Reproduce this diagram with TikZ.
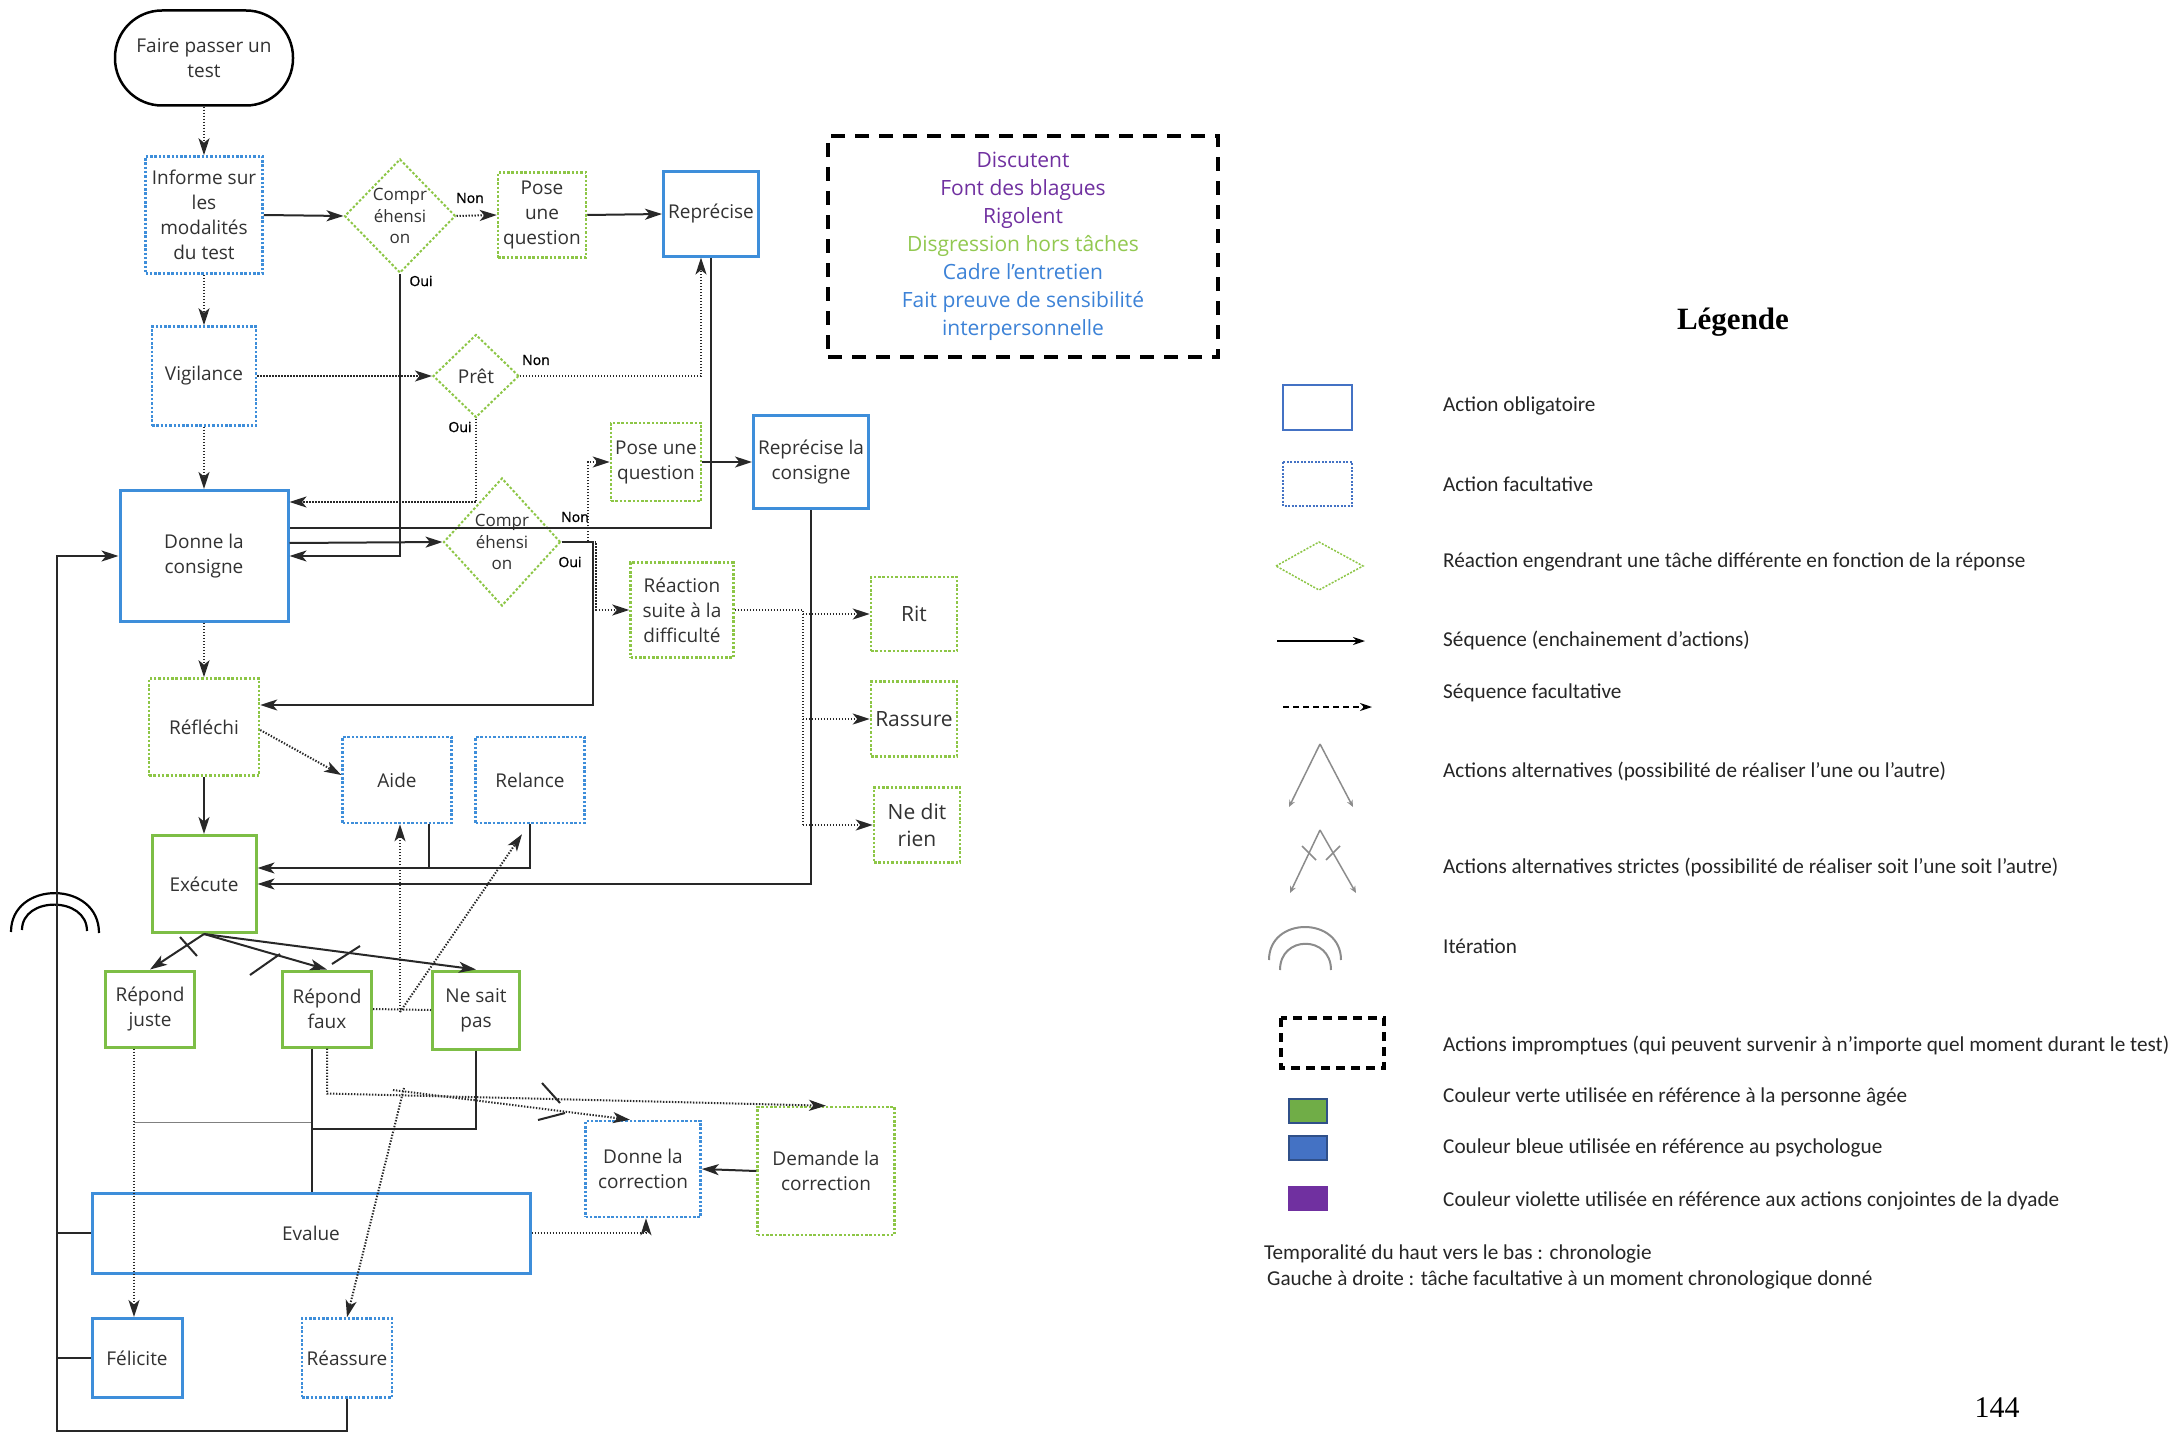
\documentclass[tikz,border=0pt]{standalone}
\usepackage{fontspec}
\setmainfont{Open Sans}
\newfontfamily\legfont{Carlito}
\newfontfamily\serfont{Liberation Serif}
\newfontfamily\labfont[FakeBold=1.2]{Open Sans}
\usetikzlibrary{arrows.meta,shapes.geometric,calc}
\definecolor{bl}{RGB}{62,142,218}
\definecolor{gr}{RGB}{141,198,70}
\definecolor{grs}{RGB}{125,190,70}
\definecolor{ln}{RGB}{40,40,40}
\definecolor{tx}{RGB}{50,50,50}
\definecolor{purp}{RGB}{112,48,160}
\definecolor{txgreen}{RGB}{146,200,80}
\definecolor{txblue}{RGB}{60,130,215}
\definecolor{lgreen}{RGB}{112,173,71}
\definecolor{lblue}{RGB}{68,114,196}
\definecolor{lgrey}{RGB}{140,140,140}
\tikzset{
 base/.style={rectangle, inner sep=2pt, align=center, text=tx, font=\fontsize{19}{25}\selectfont},
 oblig/.style={base, draw=bl, line width=3pt},
 facul/.style={base, draw=bl, line width=2.5pt, dash pattern=on 2.5pt off 1.8pt},
 vert/.style={base, draw=gr, line width=2.5pt, dash pattern=on 2.5pt off 1.8pt},
 verts/.style={base, draw=grs, line width=3pt},
 losange/.style={diamond, inner sep=0pt, align=center, text=tx, draw=gr, line width=2pt, dash pattern=on 2.5pt off 2pt, font=\fontsize{17}{21.5}\selectfont},
 sz/.style 2 args={minimum width=#1pt, minimum height=#2pt},
 con/.style={draw=ln, line width=2pt},
 dcon/.style={draw=ln, line width=2pt, dash pattern=on 1.4pt off 1.6pt},
 tip/.style={-{Stealth[length=17pt,width=11pt,inset=4.5pt]}},
 lab/.style={font=\labfont\fontsize{14}{16}\selectfont, text=black, inner sep=0pt},
 legt/.style={anchor=west, inner sep=0pt, text=black!85, font=\legfont\fontsize{21.2}{25}\selectfont},
}
\begin{document}
\begin{tikzpicture}[x=1pt,y=-1pt]
\fill[white] (0,0) rectangle (2181,1434);
\useasboundingbox (0,0) rectangle (2181,1434);

% ---------- nodes ----------
\node[base, draw=black, line width=2.5pt, rounded corners=47pt, sz={178}{95}] (start) at (204,58) {Faire passer un\\test};
\node[facul, sz={117}{117}] (informe) at (204,215) {Informe sur\\les\\modalités\\du test};
\node[losange, sz={111}{114}] (comp1) at (400,216) {Compr\\éhensi\\on};
\node[vert, sz={88}{85}] (pose1) at (542,215) {Pose\\une\\question};
\node[oblig, sz={95}{84}] (repr) at (711,214) {Reprécise};
\node[facul, sz={104}{99}] (vigil) at (204,376) {Vigilance};
\node[losange, sz={86}{83}, font=\fontsize{19}{23}\selectfont] (pret) at (476,376) {Prêt};
\node[oblig, sz={168}{131}] (donne) at (204,556) {Donne la\\consigne};
\node[losange, sz={117}{128}] (comp2) at (502,542) {Compr\\éhensi\\on};
\node[vert, sz={90}{78}] (pose2) at (656,462) {Pose une\\question};
\node[oblig, sz={115}{93}] (repcons) at (811,462) {Reprécise la\\consigne};
\node[vert, sz={103}{95}] (reac) at (682,610) {Réaction\\suite à la\\difficulté};
\node[vert, sz={86}{74}, font=\fontsize{21}{27}\selectfont] (rit) at (914,614) {Rit};
\node[vert, sz={86}{75}, font=\fontsize{21}{27}\selectfont] (rassure) at (914,719) {Rassure};
\node[vert, sz={86}{75}, font=\fontsize{21}{27}\selectfont] (nedit) at (917,825) {Ne dit\\rien};
\node[vert, sz={110}{97}] (refl) at (204,727) {Réfléchi};
\node[facul, sz={109}{86}] (aide) at (397,780) {Aide};
\node[facul, sz={109}{86}] (relance) at (530,780) {Relance};
\node[verts, sz={104}{97}] (exec) at (204,884) {Exécute};
\node[verts, sz={89}{76}] (juste) at (150,1009) {Répond\\juste};
\node[verts, sz={89}{76}] (faux) at (327,1009) {Répond\\faux};
\node[verts, sz={87}{78}] (nesait) at (476,1010) {Ne sait\\pas};
\node[facul, sz={115}{96}] (dcorr) at (643,1169) {Donne la\\correction};
\node[vert, sz={137}{128}] (dem) at (826,1171) {Demande la\\correction};
\node[oblig, sz={438}{80}] (evalue) at (311,1233) {Evalue};
\node[oblig, sz={90}{79}] (felic) at (137,1358) {Félicite};
\node[facul, sz={90}{79}] (reass) at (347,1358) {Réassure};

% impromptu box
\node[draw=black, line width=4pt, dash pattern=on 14pt off 10pt, sz={390}{221}, inner sep=0pt, align=center, font=\fontsize{21}{28}\selectfont] (impro) at (1023,246.5)
 {\textcolor{purp}{Discutent}\\\textcolor{purp}{Font des blagues}\\\textcolor{purp}{Rigolent}\\\textcolor{txgreen}{Disgression hors tâches}\\\textcolor{txblue}{Cadre l'entretien}\\\textcolor{txblue}{Fait preuve de sensibilité}\\\textcolor{txblue}{interpersonnelle}};

% ---------- connectors ----------
\draw[dcon, tip] (start.south) -- (informe.north);
\draw[con, tip] (informe.east) -- (comp1.west);
\draw[dcon, tip] (comp1.east) -- (pose1.west);
\node[lab] (non1) at (470,198) {Non};
\draw[con, tip] (pose1.east) -- (repr.west);
\draw[con, tip] (comp1.south) |- (donne.east);
\node[lab] (oui1) at (421,281) {Oui};
\draw[dcon, tip] (informe.south) -- (vigil.north);
\draw[dcon, tip] (vigil.east) -- (pret.west);
\draw[dcon, tip] (pret.east) -| ([xshift=-10pt]repr.south);
\node[lab] (non2) at (536,360) {Non};
\draw[dcon, tip] (pret.south) |- ([yshift=54pt]donne.east);
\node[lab] (oui2) at (460,427) {Oui};
\draw[con] (repr.south) |- ([yshift=28pt]donne.east);
\draw[dcon, tip] (vigil.south) -- (donne.north);
\draw[con, tip] ([yshift=13pt]donne.east) -- (comp2.west);
\draw[dcon, tip] (comp2.east) -| ([xshift=-22pt]pose2.west) -- (pose2.west);
\node[lab] (non3) at (575,517) {Non};
\draw[con, tip] (comp2.east) -| ([xshift=333pt,yshift=22pt]refl.east) -- ([yshift=22pt]refl.east);
\node[lab] (oui3) at (570,562) {Oui};
\draw[dcon, tip] (comp2.east) -| ([xshift=-33pt]reac.west) -- (reac.west);
\draw[con, tip] (pose2.east) -- (repcons.west);
\draw[con, tip] (repcons.south) |- (exec.east);
\draw[dcon] (reac.east) -- ++(68,0) coordinate (rj) -- (rj |- nedit.west);
\draw[dcon, tip] (rj |- rit.west) -- (rit.west);
\draw[dcon, tip] (rj |- rassure.west) -- (rassure.west);
\draw[dcon, tip] (rj |- nedit.west) -- (nedit.west);
\draw[dcon, tip] (donne.south) -- (refl.north);
\draw[dcon, tip] ([yshift=-3pt]refl.east) -- ([yshift=5pt]aide.west);
\draw[con, tip] (refl.south) -- (exec.north);
\draw[con] ([xshift=32pt]aide.south) -- ++(0,45);
\draw[con, tip] (relance.south) |- ([yshift=16pt]exec.east);
% alternatives
\draw[con, tip] (exec.south) -- (juste.north);
\draw[con, tip] (exec.south) -- (faux.north);
\draw[con, tip] (exec.south) -- (nesait.north);
\draw[con] (180,937) -- (197,956);
\draw[con] (250,975) -- (280,954);
\draw[con] (332,964) -- (360,946);
% iteration
\draw[black, line width=2.2pt] (11,932) .. controls (11,880) and (99,880) .. (99,933);
\draw[black, line width=2.2pt] (22,930) .. controls (22,896) and (87,896) .. (87,931);
% answers
\draw[dcon] (faux.east) -- (nesait.west);
\coordinate (hub) at (400,1012);
\draw[dcon, tip] (hub) -- (hub |- aide.south);
\draw[dcon, tip] (hub) -- ([xshift=-8pt,yshift=-10pt]relance.south);
\draw[dcon, tip] ([xshift=-16pt]juste.south) -- ([xshift=-3pt]felic.north);
\draw[con, draw=gray, line width=1.5pt] ($(juste.south)+(-16,74)$) -- ($(faux.south)+(-15,74)$);
\draw[con] ([xshift=-15pt]faux.south) -- ([xshift=-15pt]faux.south |- evalue.north);
\draw[con] (nesait.south) |- ($(faux.south)+(-15,80)$);
\draw[dcon, tip] (faux.south) -- ++(0,45) -- (dem.north);
\draw[dcon, tip] (393,1090) -- ([xshift=-13pt]dcorr.north);
\draw[dcon, tip] (404,1088) -- (reass.north);
\draw[con] (542,1083) -- (560,1103);
\draw[con] (538,1120) -- (565,1113);
\draw[dcon, tip] (evalue.east) -| ([xshift=3pt]dcorr.south);
\draw[con, tip] (dem.west) -- (dcorr.east);
\coordinate (lb) at (57,1431);
\draw[con, tip] (reass.south) |- (lb) |- (donne.west);
\draw[con] (felic.west) -- (felic.west -| lb);
\draw[con] (evalue.west) -- (evalue.west -| lb);

% ---------- legend ----------
\node[font=\serfont\bfseries\fontsize{31}{36}\selectfont, text=black] (legtitle) at (1733,322) {Légende};
\draw[draw=lblue, line width=2pt] (1283,385) rectangle (1352,430);
\draw[draw=lblue, line width=1.5pt, dash pattern=on 2pt off 1.5pt] (1283,462) rectangle (1352,506);
\draw[draw=gr, line width=1.5pt, dash pattern=on 2pt off 1.5pt] (1276,566) -- (1319,542) -- (1363,566) -- (1319,590) -- cycle;
\draw[black, line width=2pt, -{Stealth[length=12pt,width=8pt]}] (1277,641) -- (1365,641);
\draw[black, line width=1.8pt, dash pattern=on 6pt off 4pt, -{Stealth[length=12pt,width=8pt]}] (1283,707) -- (1372,707);
\draw[lgrey, line width=1.5pt, -{Stealth[length=7pt,width=6pt]}] (1320,744) -- (1289,807);
\draw[lgrey, line width=1.5pt, -{Stealth[length=7pt,width=6pt]}] (1320,744) -- (1353,807);
\draw[lgrey, line width=1.5pt, -{Stealth[length=7pt,width=6pt]}] (1320,830) -- (1290,893);
\draw[lgrey, line width=1.5pt, -{Stealth[length=7pt,width=6pt]}] (1320,830) -- (1356,893);
\draw[lgrey, line width=1.5pt] (1302,846) -- (1316,860);
\draw[lgrey, line width=1.5pt] (1326,860) -- (1340,846);
\draw[lgrey, line width=2pt] (1269,960) .. controls (1269,916) and (1341,916) .. (1341,960);
\draw[lgrey, line width=2pt] (1280,970) .. controls (1280,935) and (1331,935) .. (1331,970);
\draw[black, line width=3.5pt, dash pattern=on 9pt off 6pt] (1281,1018) rectangle (1384,1068);
\filldraw[fill=lgreen, draw=lblue!70!black, line width=1.2pt] (1289,1099) rectangle (1327,1123);
\filldraw[fill=lblue, draw=lblue!70!black, line width=1.2pt] (1289,1136) rectangle (1327,1160);
\filldraw[fill=purp, draw=purp, line width=1.2pt] (1289,1187) rectangle (1327,1210);

\node[legt] (l1) at (1443,406) {Action obligatoire};
\node[legt] (l2) at (1443,484) {Action facultative};
\node[legt] (l3) at (1443,562) {Réaction engendrant une tâche différente en fonction de la réponse};
\node[legt] (l4) at (1443,640) {Séquence (enchainement d’actions)};
\node[legt] (l5) at (1443,693) {Séquence facultative};
\node[legt] (l6) at (1443,771) {Actions alternatives (possibilité de réaliser l’une ou l’autre)};
\node[legt] (l7) at (1443,867) {Actions alternatives strictes (possibilité de réaliser soit l’une soit l’autre)};
\node[legt] (l8) at (1443,946) {Itération};
\node[legt] (l9) at (1443,1045) {Actions impromptues (qui peuvent survenir à n’importe quel moment durant le test)};
\node[legt] (l10) at (1443,1097) {Couleur verte utilisée en référence à la personne âgée};
\node[legt] (l11) at (1443,1148) {Couleur bleue utilisée en référence au psychologue};
\node[legt] (l12) at (1443,1201) {Couleur violette utilisée en référence aux actions conjointes de la dyade};
\node[legt] (t1) at (1264,1254) {Temporalité du haut vers le bas : chronologie};
\node[legt] (t2) at (1267,1280) {Gauche à droite : tâche facultative à un moment chronologique donné};
\node[font=\serfont\fontsize{30}{34}\selectfont, text=black] (page) at (1997,1408) {144};
\end{tikzpicture}
\end{document}
